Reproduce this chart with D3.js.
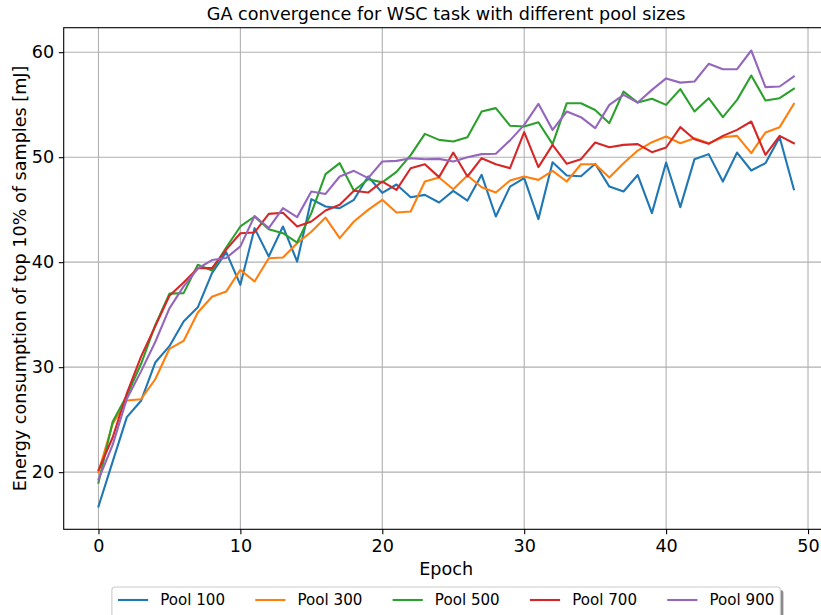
<!DOCTYPE html>
<html>
<head>
<meta charset="utf-8">
<script src="https://cdn.jsdelivr.net/npm/d3@7"></script>
<style>
  body { margin: 0; background: #fff; }
  svg { display: block; }
  text { font-family: "DejaVu Sans", sans-serif; fill: #000; }
</style>
</head>
<body>
<svg id="chart" width="821" height="615"></svg>
<script>
// Series labels and colours
const seriesNames = ["Pool 100", "Pool 300", "Pool 500", "Pool 700", "Pool 900"];
const seriesColors = ["#1f77b4", "#ff7f0e", "#2ca02c", "#d62728", "#9467bd"];

// Energy of the best 10% per epoch (epochs 0..49)
const pool100 = [16.73, 21.0, 25.24, 26.8, 30.44, 32.0, 34.35, 35.7, 38.95, 40.95,
  37.84, 43.24, 40.54, 43.4, 40.06, 46.0, 45.3, 45.14, 45.94, 48.16,
  46.6, 47.4, 46.19, 46.41, 45.68, 46.79, 45.87, 48.32, 44.35, 47.2,
  48.0, 44.1, 49.52, 48.25, 48.19, 49.37, 47.2, 46.73, 48.3, 44.67,
  49.49, 45.24, 49.81, 50.29, 47.68, 50.44, 48.73, 49.43, 51.9, 46.95];
const pool300 = [20.0, 24.6, 26.83, 26.95, 28.85, 31.75, 32.5, 35.2, 36.7, 37.2,
  39.27, 38.16, 40.38, 40.44, 41.8, 42.9, 44.25, 42.29, 43.87, 44.98,
  45.94, 44.73, 44.83, 47.68, 48.06, 46.95, 48.25, 47.14, 46.63, 47.78,
  48.16, 47.84, 48.7, 47.68, 49.33, 49.33, 48.06, 49.43, 50.63, 51.43,
  51.97, 51.33, 51.81, 51.33, 51.9, 52.03, 50.38, 52.35, 52.86, 55.08];
const pool500 = [19.0, 24.8, 27.3, 30.3, 34.0, 37.0, 37.05, 39.75, 39.2, 41.4,
  43.4, 44.35, 43.14, 42.76, 41.87, 44.67, 48.38, 49.43, 46.8, 47.9,
  47.6, 48.6, 50.2, 52.22, 51.65, 51.49, 51.9, 54.35, 54.67, 53.0,
  52.92, 53.33, 51.24, 55.14, 55.14, 54.5, 53.24, 56.25, 55.2, 55.56,
  54.98, 56.48, 54.35, 55.62, 53.81, 55.46, 57.78, 55.4, 55.62, 56.51];
const pool700 = [20.2, 23.3, 27.5, 31.0, 33.9, 36.8, 38.06, 39.43, 39.43, 41.2,
  42.76, 42.83, 44.6, 44.7, 43.4, 43.87, 44.92, 45.46, 46.8, 46.63,
  47.68, 46.89, 48.95, 49.33, 48.1, 50.44, 48.16, 49.9, 49.33, 48.95,
  52.38, 49.05, 51.17, 49.37, 49.81, 51.4, 50.95, 51.17, 51.24, 50.48,
  50.92, 52.86, 51.71, 51.27, 52.03, 52.6, 53.4, 50.22, 52.03, 51.33];
const pool900 = [19.3, 22.6, 27.0, 29.6, 32.4, 35.6, 37.7, 39.4, 40.2, 40.4,
  41.5, 44.4, 43.24, 45.14, 44.29, 46.73, 46.5, 48.16, 48.7, 48.0,
  49.59, 49.65, 49.9, 49.8, 49.84, 49.59, 50.0, 50.29, 50.32, 51.6,
  53.08, 55.08, 52.6, 54.35, 53.81, 52.76, 54.98, 55.94, 55.2, 56.41,
  57.5, 57.1, 57.21, 58.89, 58.38, 58.38, 60.16, 56.67, 56.73, 57.68];

const xTickValues = [0, 10, 20, 30, 40, 50];
const yTickValues = [20, 30, 40, 50, 60];

const titleText = "GA convergence for WSC task with different pool sizes";
const xLabelText = "Epoch";
const yLabelText = "Energy consumption of top 10% of samples [mJ]";

const seriesValues = [pool100, pool300, pool500, pool700, pool900];

// Layout
const plot = { left: 63.7, right: 828.6, top: 27.7, bottom: 529.3 };
const labelFont = 17.6, legendFont = 15.1, tickLen = 4.9;

const svg = d3.select("#chart");

const nPts = pool100.length;
const xPad = 0.05 * (nPts - 1);
const x = d3.scaleLinear().domain([-xPad, nPts - 1 + xPad]).range([plot.left, plot.right]);
const yMin = d3.min(seriesValues, s => d3.min(s));
const yMax = d3.max(seriesValues, s => d3.max(s));
const yPad = 0.05 * (yMax - yMin);
const y = d3.scaleLinear().domain([yMin - yPad, yMax + yPad]).range([plot.bottom, plot.top]);

svg.append("defs").append("clipPath").attr("id", "plotClip")
  .append("rect")
  .attr("x", plot.left).attr("y", plot.top)
  .attr("width", plot.right - plot.left).attr("height", plot.bottom - plot.top);

// Grid
const grid = svg.append("g").attr("stroke", "#b0b0b0").attr("stroke-width", 1.1);
grid.selectAll("line.gx").data(xTickValues).join("line")
  .attr("x1", d => x(d)).attr("x2", d => x(d))
  .attr("y1", plot.top).attr("y2", plot.bottom);
grid.selectAll("line.gy").data(yTickValues).join("line")
  .attr("x1", plot.left).attr("x2", plot.right)
  .attr("y1", d => y(d)).attr("y2", d => y(d));

// Series lines
const line = d3.line().x((d, i) => x(i)).y(d => y(d));
svg.append("g").attr("clip-path", "url(#plotClip)")
  .selectAll("path").data(seriesValues).join("path")
  .attr("d", d => line(d))
  .attr("fill", "none")
  .attr("stroke", (d, i) => seriesColors[i])
  .attr("stroke-width", 2.1)
  .attr("stroke-linejoin", "round")
  .attr("stroke-linecap", "square");

// Axes
const xAxis = d3.axisBottom(x).tickValues(xTickValues).tickSize(tickLen).tickPadding(5.5).tickSizeOuter(0);
const yAxis = d3.axisLeft(y).tickValues(yTickValues).tickSize(tickLen).tickPadding(4.6).tickSizeOuter(0);

const gx = svg.append("g").attr("transform", `translate(0,${plot.bottom})`).call(xAxis);
const gy = svg.append("g").attr("transform", `translate(${plot.left},0)`).call(yAxis);
[gx, gy].forEach(g => {
  g.select(".domain").remove();
  g.selectAll(".tick line").attr("stroke", "#000").attr("stroke-width", 1.1);
  g.selectAll(".tick text").attr("font-size", labelFont).attr("fill", "#000")
    .attr("font-family", "DejaVu Sans, sans-serif");
});

// Spines
const spines = svg.append("g").attr("stroke", "#000").attr("stroke-width", 1.1).attr("fill", "none");
spines.append("rect")
  .attr("x", plot.left).attr("y", plot.top)
  .attr("width", plot.right - plot.left).attr("height", plot.bottom - plot.top);

// Title and axis labels
const midX = (plot.left + plot.right) / 2;
svg.append("text").attr("x", midX).attr("y", 19.5)
  .attr("text-anchor", "middle").attr("font-size", labelFont).text(titleText);
svg.append("text").attr("x", midX).attr("y", 575)
  .attr("text-anchor", "middle").attr("font-size", labelFont).text(xLabelText);
svg.append("text")
  .attr("transform", `translate(26,${(plot.top + plot.bottom) / 2}) rotate(-90)`)
  .attr("text-anchor", "middle").attr("font-size", labelFont).text(yLabelText);

// Legend (single row, centred under the axes)
const handleLen = 2.0 * legendFont, handlePad = 0.8 * legendFont,
      colSpace = 2.0 * legendFont, borderPad = 0.4 * legendFont;
const legend = svg.append("g");
const shadow = legend.append("rect");
const frame = legend.append("rect");
const entries = legend.selectAll("g.entry").data(seriesNames).join("g").attr("class", "entry");
entries.append("line")
  .attr("x1", 0).attr("x2", handleLen).attr("y1", 0).attr("y2", 0)
  .attr("stroke", (d, i) => seriesColors[i]).attr("stroke-width", 2.1);
entries.append("text")
  .attr("x", handleLen + handlePad).attr("y", 0).attr("dy", "0.36em")
  .attr("font-size", legendFont).text(d => d);

let cursor = 0;
const offsets = [];
entries.each(function () {
  const w = d3.select(this).select("text").node().getComputedTextLength();
  offsets.push(cursor);
  cursor += handleLen + handlePad + w + colSpace;
});
const innerW = cursor - colSpace;
const boxW = innerW + 2 * borderPad;
const boxX = midX - boxW / 2;
const boxY = 587, boxH = 31;
entries.attr("transform", (d, i) => `translate(${boxX + borderPad + offsets[i]},${boxY + 13})`);
shadow.attr("x", boxX + 3).attr("y", boxY + 3).attr("width", boxW).attr("height", boxH)
  .attr("rx", 3).attr("fill", "#4d4d4d").attr("opacity", 0.65);
frame.attr("x", boxX).attr("y", boxY).attr("width", boxW).attr("height", boxH)
  .attr("rx", 3).attr("fill", "#fff").attr("stroke", "#cccccc").attr("stroke-width", 1.1);
</script>
</body>
</html>
